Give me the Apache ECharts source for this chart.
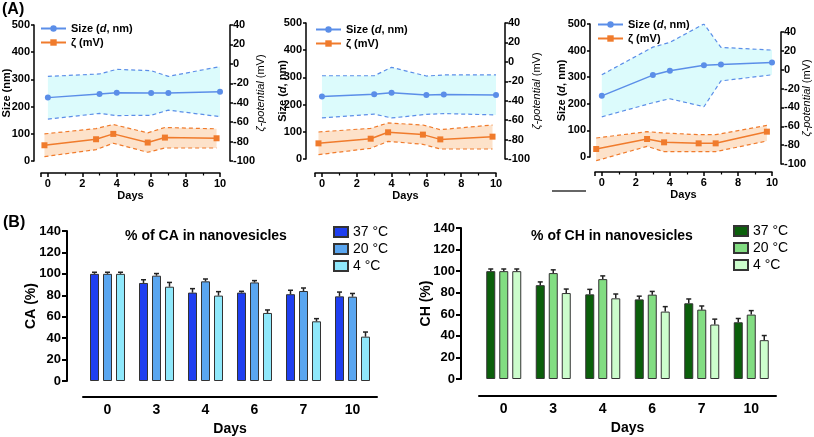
<!DOCTYPE html>
<html><head><meta charset="utf-8">
<script src="https://cdn.jsdelivr.net/npm/echarts@6/dist/echarts.min.js"></script>
<style>html,body{margin:0;padding:0;background:#fff}#c{width:814px;height:437px}</style>
</head><body><div id="c"></div>
<script>
// ---------------- DATA ----------------
const dayTicks = [0, 2, 4, 6, 8, 10];
const sizeDays = [0, 3, 4, 6, 7, 10];
const zetaDays12 = [-0.2, 2.8, 3.8, 5.8, 6.8, 9.8];
const zetaDays3 = [-0.33, 2.66, 3.66, 5.69, 6.69, 9.7];

const size1 = [233, 246, 251, 250, 250, 255];
const size1Hi = [311, 320, 337, 332, 311, 347];
const size1Lo = [154, 175, 167, 168, 187, 163];
const zeta1 = [-83.8, -77.6, -72.1, -81, -75.9, -76.6];
const zeta1Hi = [-72.1, -66.6, -62.4, -71, -65.5, -66.9];
const zeta1Lo = [-95.5, -88.3, -81.7, -91, -86.6, -86.6];

const size2 = [230, 238, 244, 235, 237, 235];
const size2Hi = [306, 306, 337, 305, 309, 309];
const size2Lo = [151, 165, 151, 164, 167, 162];
const zeta2 = [-83.9, -79.1, -72.5, -74.9, -79.8, -77];
const zeta2Hi = [-72.2, -68.4, -62.9, -65, -69.8, -65];
const zeta2Lo = [-95.5, -89, -81.8, -84.9, -89.7, -89.7];

const size3 = [230, 308, 324, 345, 348, 355];
const size3Hi = [309, 413, 431, 500, 412, 402];
const size3Lo = [151, 204, 219, 189, 286, 309];
const zeta3 = [-84.1, -73.5, -77, -78.1, -78.1, -65.7];
const zeta3Hi = [-72.4, -65.7, -67.1, -68.9, -68.9, -59.1];
const zeta3Lo = [-96.5, -81.3, -86.9, -86.9, -86.9, -75.6];

const barDays = ['0', '3', '4', '6', '7', '10'];
const tempLabels = ['37 °C', '20 °C', '4 °C'];

const ca37 = [100, 91.5, 82.5, 82.5, 81, 79];
const ca20 = [100, 98.3, 93, 92, 84, 78.7];
const ca4 = [100, 88, 79.7, 63.5, 55.7, 41.4];
const ca37Err = [1.5, 3, 3.7, 1.2, 3.7, 4];
const ca20Err = [1.5, 2, 2.2, 1.7, 2.8, 3];
const ca4Err = [1.5, 4, 3.7, 2.8, 2.5, 4.3];

const ch37 = [100, 87, 78.5, 73.8, 70.2, 52.6];
const ch20 = [100, 98.2, 92.6, 78.2, 64.3, 59.7];
const ch4 = [100, 79.7, 74.8, 62.5, 50.5, 36];
const ch37Err = [2, 3, 4.6, 3, 4, 3.5];
const ch20Err = [2, 3, 3, 3, 3.4, 3.7];
const ch4Err = [2, 3.7, 4, 4.6, 5, 4.3];

// ---------------- STYLE ----------------
const FONT = "'Liberation Sans', Arial, Helvetica, sans-serif";
const BLUE = '#5b8ee8', BLUE_FILL = '#dcfbfc', ORANGE = '#f07b2c', ORANGE_FILL = '#fde2ca';
const CA_COLORS = ['#1f3ff0', '#5aa6f0', '#8fe8fb'];
const CH_COLORS = ['#0b5f0b', '#82dd82', '#ccfdcc'];
const BAR_W = 9, BAR_GAP = 4;
const SIZE_NAME = 'Size (d, nm)', ZETA_NAME = 'ζ (mV)';

const txt = (size, weight) => ({ color: '#000', fontFamily: FONT, fontSize: size, fontWeight: weight || 'bold' });
const axLine = (w) => ({ show: true, onZero: false, lineStyle: { color: '#000', width: w } });

const grid = [
  { left: 40, top: 25, width: 180, height: 136 },
  { left: 315, top: 23, width: 181, height: 136 },
  { left: 595, top: 24, width: 177, height: 133 },
  { left: 595, top: 32, width: 177, height: 132 },
  { left: 83, top: 231, width: 294, height: 150 },
  { left: 479, top: 228, width: 297, height: 151 }
];

const xAxis = [], yAxis = [], series = [];

function daysAxis(gridIndex, offset) {
  xAxis.push({
    type: 'value', gridIndex, position: 'bottom', min: -0.4, max: 10, offset,
    axisLine: axLine(1.5),
    axisTick: { show: true, length: 4, lineStyle: { color: '#000', width: 1.5 } },
    minorTick: { show: true, splitNumber: 2, length: 2.5, lineStyle: { color: '#000', width: 1.2 } },
    axisLabel: { show: true, showMinLabel: false, margin: 5, ...txt(11),
      formatter: v => (dayTicks.indexOf(v) >= 0 ? String(v) : '') },
    splitLine: { show: false },
    name: 'Days', nameLocation: 'middle', nameGap: 17, nameMoveOverlap: false, nameTextStyle: txt(11)
  });
}
daysAxis(0, 12);   // 0
daysAxis(1, 14);   // 1
daysAxis(2, 15);   // 2
xAxis.push({ type: 'value', gridIndex: 3, min: -0.4, max: 10, show: false }); // 3
xAxis.push({ // 4
  type: 'category', gridIndex: 4, data: barDays, offset: 16,
  axisLine: axLine(2), axisTick: { show: false },
  axisLabel: { margin: 6, ...txt(14) },
  name: 'Days', nameLocation: 'middle', nameGap: 25, nameMoveOverlap: false, nameTextStyle: txt(14)
});
xAxis.push({ // 5
  type: 'category', gridIndex: 5, data: barDays, offset: 17,
  axisLine: axLine(2), axisTick: { show: false },
  axisLabel: { margin: 6, ...txt(14) },
  name: 'Days', nameLocation: 'middle', nameGap: 25, nameMoveOverlap: false, nameTextStyle: txt(14)
});

const richName = {
  i: { fontStyle: 'italic', fontWeight: 'bold', fontSize: 11, fontFamily: FONT, color: '#000' },
  z: { fontStyle: 'italic', fontWeight: 'normal', fontSize: 11, fontFamily: FONT, color: '#000' }
};
function sizeAxis(gridIndex, offset, name, gap) {
  yAxis.push({
    type: 'value', gridIndex, position: 'left', min: 0, max: 500, interval: 100, offset,
    axisLine: axLine(1.5), axisTick: { show: true, length: 3, lineStyle: { color: '#000', width: 1.5 } },
    axisLabel: { margin: 4, ...txt(11) }, splitLine: { show: false },
    name, nameLocation: 'middle', nameRotate: 90, nameGap: gap, nameMoveOverlap: false,
    nameTextStyle: { ...txt(11), rich: richName }
  });
}
function zetaAxis(gridIndex, offset, gap) {
  yAxis.push({
    type: 'value', gridIndex, position: 'right', min: -100, max: 40, interval: 20, offset,
    axisLine: axLine(1.5), axisTick: { show: true, length: 3, lineStyle: { color: '#000', width: 1.5 } },
    axisLabel: { margin: 3, ...txt(11) }, splitLine: { show: false },
    name: '{z|ζ-potential} (mV)', nameLocation: 'middle', nameRotate: 90, nameGap: gap, nameMoveOverlap: false,
    nameTextStyle: { ...txt(11, 'normal'), rich: richName }
  });
}
sizeAxis(0, 7, 'Size (nm)', 22);        // 0
zetaAxis(0, 10, 25);                      // 1
sizeAxis(1, 9, 'Size ({i|d}, nm)', 18); // 2
zetaAxis(1, 9, 26);                       // 3
sizeAxis(2, 5, 'Size ({i|d}, nm)', 23); // 4
zetaAxis(3, 9, 20);                       // 5
function pctAxis(gridIndex, offset, name, gap) {
  yAxis.push({
    type: 'value', gridIndex, min: 0, max: 140, interval: 20, offset,
    axisLine: axLine(2), axisTick: { show: true, length: 5, lineStyle: { color: '#000', width: 2 } },
    axisLabel: { margin: 6, ...txt(13) }, splitLine: { show: false },
    name, nameLocation: 'middle', nameRotate: 90, nameGap: gap, nameMoveOverlap: false, nameTextStyle: txt(14)
  });
}
pctAxis(4, 16, 'CA (%)', 29); // 6
pctAxis(5, 18, 'CH (%)', 28); // 7

const zip = (xs, ys) => xs.map((x, i) => [x, ys[i]]);

function band(xs, hi, lo, xi, yi, fill) {
  return {
    type: 'custom', xAxisIndex: xi, yAxisIndex: yi, z: 1, silent: true,
    data: [[xs[0], lo[0]]],
    renderItem: (params, api) => {
      const pts = [];
      xs.forEach((x, i) => pts.push(api.coord([x, hi[i]])));
      for (let i = xs.length - 1; i >= 0; i--) pts.push(api.coord([xs[i], lo[i]]));
      return { type: 'polygon', shape: { points: pts }, style: { fill } };
    }
  };
}
function dashed(xs, ys, xi, yi, color) {
  return {
    type: 'line', xAxisIndex: xi, yAxisIndex: yi, z: 2, silent: true, symbol: 'none',
    data: zip(xs, ys), lineStyle: { color, width: 1.2, type: [4, 3] }
  };
}
function mean(name, xs, ys, xi, yi, color, symbol, size) {
  return {
    type: 'line', name, xAxisIndex: xi, yAxisIndex: yi, z: 3, symbol, symbolSize: size,
    data: zip(xs, ys), lineStyle: { color, width: 1.5 }, itemStyle: { color }
  };
}

const plots = [
  { xs: 0, ys: 0, xz: 0, yz: 1, zd: zetaDays12, s: size1, sh: size1Hi, sl: size1Lo, z: zeta1, zh: zeta1Hi, zl: zeta1Lo },
  { xs: 1, ys: 2, xz: 1, yz: 3, zd: zetaDays12, s: size2, sh: size2Hi, sl: size2Lo, z: zeta2, zh: zeta2Hi, zl: zeta2Lo },
  { xs: 2, ys: 4, xz: 3, yz: 5, zd: zetaDays3, s: size3, sh: size3Hi, sl: size3Lo, z: zeta3, zh: zeta3Hi, zl: zeta3Lo }
];
plots.forEach(p => {
  series.push(band(sizeDays, p.sh, p.sl, p.xs, p.ys, BLUE_FILL));
  series.push(band(p.zd, p.zh, p.zl, p.xz, p.yz, ORANGE_FILL));
  series.push(dashed(sizeDays, p.sh, p.xs, p.ys, BLUE));
  series.push(dashed(sizeDays, p.sl, p.xs, p.ys, BLUE));
  series.push(dashed(p.zd, p.zh, p.xz, p.yz, ORANGE));
  series.push(dashed(p.zd, p.zl, p.xz, p.yz, ORANGE));
  series.push(mean(SIZE_NAME, sizeDays, p.s, p.xs, p.ys, BLUE, 'circle', 6));
  series.push(mean(ZETA_NAME, p.zd, p.z, p.xz, p.yz, ORANGE, 'rect', 6));
});

function barGroup(prefix, vals, errs, colors, xi, yi) {
  vals.forEach((v, k) => {
    series.push({
      type: 'bar', name: prefix + '|' + tempLabels[k], xAxisIndex: xi, yAxisIndex: yi,
      data: v, barWidth: BAR_W, barGap: (BAR_GAP / BAR_W * 100) + '%', z: 2,
      itemStyle: { color: colors[k], borderColor: '#333', borderWidth: 1 }
    });
  });
  vals.forEach((v, k) => {
    series.push({
      type: 'custom', xAxisIndex: xi, yAxisIndex: yi, z: 5, silent: true,
      data: v.map((val, i) => [i, val, errs[k][i]]),
      renderItem: (params, api) => {
        const b = api.coord([api.value(0), api.value(1)]);
        const t = api.coord([api.value(0), api.value(1) + api.value(2)]);
        const x = b[0] + (k - 1) * (BAR_W + BAR_GAP);
        const st = { stroke: '#222', lineWidth: 1.5 };
        return { type: 'group', children: [
          { type: 'line', shape: { x1: x, y1: b[1], x2: x, y2: t[1] }, style: st },
          { type: 'line', shape: { x1: x - 2.5, y1: t[1], x2: x + 2.5, y2: t[1] }, style: st }
        ] };
      }
    });
  });
}
barGroup('CA', [ca37, ca20, ca4], [ca37Err, ca20Err, ca4Err], CA_COLORS, 4, 6);
barGroup('CH', [ch37, ch20, ch4], [ch37Err, ch20Err, ch4Err], CH_COLORS, 5, 7);

const lineLegend = (left, top) => ({
  data: [SIZE_NAME, ZETA_NAME], left, top, orient: 'vertical', padding: 0,
  itemWidth: 25, itemHeight: 8, itemGap: 3, selectedMode: false,
  formatter: n => n === SIZE_NAME ? 'Size ({i|d}, nm)' : n,
  textStyle: { ...txt(11), rich: { i: { fontStyle: 'italic', fontWeight: 'bold', fontSize: 11, fontFamily: FONT, color: '#000' } } }
});
const barLegend = (prefix, left, top) => ({
  data: tempLabels.map(t => prefix + '|' + t), left, top, orient: 'vertical', padding: 0,
  icon: 'rect', itemWidth: 14, itemHeight: 10, itemGap: 3, selectedMode: false,
  formatter: n => n.split('|')[1],
  textStyle: txt(14, 'normal')
});

const option = {
  animation: false,
  backgroundColor: '#fff',
  textStyle: { fontFamily: FONT },
  title: [
    { text: '(A)', left: 2, top: 2, padding: 0, textStyle: txt(16) },
    { text: '(B)', left: 3, top: 215, padding: 0, textStyle: txt(16) },
    { text: '% of CA in nanovesicles', left: 206, top: 229, padding: 0, textAlign: 'center', textStyle: txt(14) },
    { text: '% of CH in nanovesicles', left: 612, top: 229, padding: 0, textAlign: 'center', textStyle: txt(14) }
  ],
  legend: [
    lineLegend(40, 23), lineLegend(315, 24), lineLegend(597, 19),
    barLegend('CA', 333, 225), barLegend('CH', 733, 224)
  ],
  grid, xAxis, yAxis, series,
  graphic: [{ type: 'line', shape: { x1: 552, y1: 191, x2: 586, y2: 191 }, style: { stroke: '#333', lineWidth: 1.5 } }]
};
echarts.init(document.getElementById('c'), null, { renderer: 'canvas' }).setOption(option);
</script></body></html>
